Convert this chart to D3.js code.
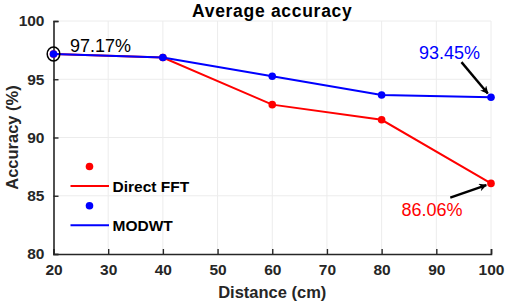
<!DOCTYPE html>
<html>
<head>
<meta charset="utf-8">
<script src="https://cdn.jsdelivr.net/npm/d3@7"></script>
<style>
  html, body { margin: 0; padding: 0; background: #fff; }
  svg { display: block; font-family: Arial, "Liberation Sans", Helvetica, sans-serif; }
</style>
</head>
<body>
<svg id="chart" width="505" height="303"></svg>
<script>
const distances = [20, 40, 60, 80, 100];
const directFFT = [97.17, 96.87, 92.82, 91.52, 86.06];
const modwt = [97.17, 96.87, 95.26, 93.65, 93.45];
const xTicks = [20, 30, 40, 50, 60, 70, 80, 90, 100];
const yTicks = [80, 85, 90, 95, 100];

const RED = '#ff0000';
const BLUE = '#0000ff';
const AXIS = '#262626';

const svg = d3.select('#chart');
const margin = { top: 21, right: 14, bottom: 49, left: 53.5 };
const W = 505, H = 303;

const x = d3.scaleLinear().domain([20, 100]).range([margin.left, W - margin.right]);
const y = d3.scaleLinear().domain([80, 100]).range([H - margin.bottom, margin.top]);

// grid
const grid = svg.append('g');
grid.selectAll('line.gx').data(xTicks.slice(1)).join('line')
  .attr('x1', d => x(d)).attr('x2', d => x(d))
  .attr('y1', y(80)).attr('y2', y(100))
  .attr('stroke', '#ececec').attr('stroke-width', 1);
grid.selectAll('line.gy').data(yTicks.slice(1)).join('line')
  .attr('x1', x(20)).attr('x2', x(100))
  .attr('y1', d => y(d)).attr('y2', d => y(d))
  .attr('stroke', '#ececec').attr('stroke-width', 1);

// axes (ticks point inward, like MATLAB)
const xAxis = svg.append('g')
  .attr('transform', `translate(0,${y(80)})`)
  .call(d3.axisBottom(x).tickValues(xTicks).tickSize(-5).tickPadding(10));
const yAxis = svg.append('g')
  .attr('transform', `translate(${x(20)},0)`)
  .call(d3.axisLeft(y).tickValues(yTicks).tickSize(-5).tickPadding(9));

[xAxis, yAxis].forEach(g => {
  g.select('.domain').attr('stroke', AXIS).attr('stroke-width', 1.6);
  g.selectAll('.tick line').attr('stroke', AXIS).attr('stroke-width', 1.4);
  g.selectAll('.tick text')
    .attr('fill', AXIS)
    .style('font-size', '15.5px')
    .style('font-weight', 'bold')
    .style('font-family', 'Arial, "Liberation Sans", sans-serif');
});
xAxis.selectAll('.tick text').attr('dy', '0.71em');

// labels
svg.append('text')
  .attr('x', (x(20) + x(100)) / 2).attr('y', 16.5)
  .attr('text-anchor', 'middle')
  .style('font-size', '17.5px').style('font-weight', 'bold')
  .style('letter-spacing', '0.7px')
  .attr('fill', '#000')
  .text('Average accuracy');

svg.append('text')
  .attr('x', (x(20) + x(100)) / 2).attr('y', 298)
  .attr('text-anchor', 'middle')
  .style('font-size', '16.5px').style('font-weight', 'bold')
  .attr('fill', AXIS)
  .text('Distance (cm)');

svg.append('text')
  .attr('transform', `translate(17.5,${(y(80) + y(100)) / 2}) rotate(-90)`)
  .attr('text-anchor', 'middle')
  .style('font-size', '16.5px').style('font-weight', 'bold')
  .attr('fill', AXIS)
  .text('Accuracy (%)');

// series
const series = [
  { name: 'Direct FFT', values: directFFT, color: RED },
  { name: 'MODWT', values: modwt, color: BLUE }
];
const line = d3.line().x(d => x(d[0])).y(d => y(d[1]));

series.forEach(s => {
  const pts = distances.map((d, i) => [d, s.values[i]]);
  svg.append('path').datum(pts)
    .attr('d', line).attr('fill', 'none')
    .attr('stroke', s.color).attr('stroke-width', 2);
  svg.selectAll(null).data(pts).join('circle')
    .attr('cx', d => x(d[0])).attr('cy', d => y(d[1]))
    .attr('r', 3.8).attr('fill', s.color);
});

// annotations
svg.append('ellipse')
  .attr('cx', x(20)).attr('cy', y(97.17))
  .attr('rx', 6.3).attr('ry', 7)
  .attr('fill', 'none').attr('stroke', '#000').attr('stroke-width', 1.5);

const notes = [
  { text: '97.17%', x: 23.0, y: 97.93, color: '#000', anchor: 'start' },
  { text: '93.45%', x: 92.4, y: 97.33, color: BLUE, anchor: 'middle' },
  { text: '86.06%', x: 89.2, y: 83.8, color: RED, anchor: 'middle' }
];
svg.selectAll(null).data(notes).join('text')
  .attr('x', d => x(d.x)).attr('y', d => y(d.y))
  .attr('dy', '0.36em')
  .attr('text-anchor', d => d.anchor)
  .attr('fill', d => d.color)
  .style('font-size', '18px')
  .text(d => d.text);

svg.append('defs').append('marker')
  .attr('id', 'head').attr('viewBox', '0 0 10 10')
  .attr('refX', 9).attr('refY', 5)
  .attr('markerWidth', 10).attr('markerHeight', 8)
  .attr('markerUnits', 'userSpaceOnUse')
  .attr('orient', 'auto')
  .append('path').attr('d', 'M0,0 L10,5 L0,10 L3,5 Z').attr('fill', '#000');

const arrows = [
  { from: [94.6, 96.47], to: [100, 93.45] },
  { from: [92.55, 84.83], to: [100, 86.06] }
];
arrows.forEach(a => {
  const x0 = x(a.from[0]), y0 = y(a.from[1]);
  const x1 = x(a.to[0]), y1 = y(a.to[1]);
  const len = Math.hypot(x1 - x0, y1 - y0);
  const k = (len - 5) / len;
  svg.append('line')
    .attr('x1', x0).attr('y1', y0)
    .attr('x2', x0 + (x1 - x0) * k).attr('y2', y0 + (y1 - y0) * k)
    .attr('stroke', '#000').attr('stroke-width', 2.4)
    .attr('marker-end', 'url(#head)');
});

// legend: marker entries and line entries listed separately
const legend = svg.append('g');
const legendRows = [
  { type: 'marker', color: RED, label: '' },
  { type: 'line', color: RED, label: 'Direct FFT' },
  { type: 'marker', color: BLUE, label: '' },
  { type: 'line', color: BLUE, label: 'MODWT' }
];
legendRows.forEach((r, i) => {
  const ry = 166.5 + i * 19.6;
  if (r.type === 'marker') {
    legend.append('circle').attr('cx', 89.5).attr('cy', ry).attr('r', 3.8).attr('fill', r.color);
  } else {
    legend.append('line').attr('x1', 70.5).attr('x2', 109).attr('y1', ry).attr('y2', ry)
      .attr('stroke', r.color).attr('stroke-width', 2);
  }
  if (r.label) {
    legend.append('text').attr('x', 112.5).attr('y', ry).attr('dy', '0.36em')
      .style('font-size', '15.5px').style('font-weight', 'bold').attr('fill', '#000')
      .text(r.label);
  }
});
</script>
</body>
</html>
